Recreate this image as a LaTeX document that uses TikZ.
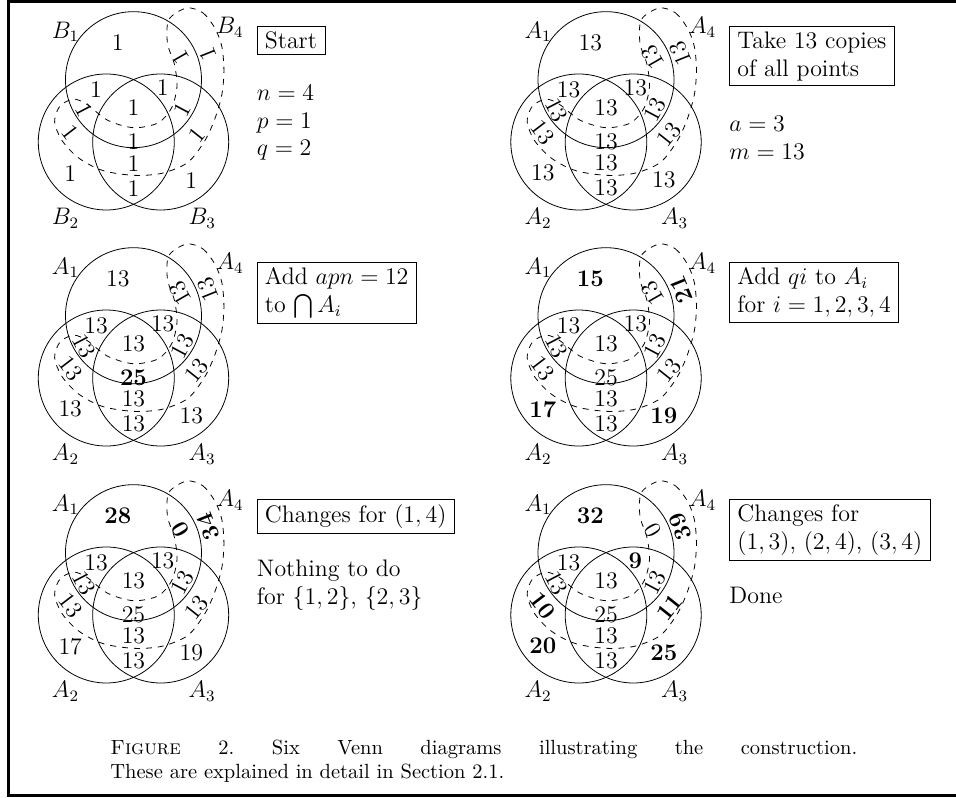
\documentclass[tikz,border=0pt]{standalone}
\usepackage{amsmath}
\usetikzlibrary{positioning}

% region positions and turns, in the order
% 1, 12, 13, 123, 1234, 234, 23, 2, 3, 14, 4, 134, 34, 124, 24
\def\regx{{-0.23,-0.55,0.43,0,0,0,0,-0.93,0.85,0.69,1.10,0.72,0.93,-0.73,-0.93}}
\def\regy{{1.46,0.77,0.80,0.51,0.0,-0.31,-0.68,-0.46,-0.56,1.25,1.30,0.47,0.11,0.47,0.14}}
\def\regr{{0,0,0,0,0,0,0,0,0,120,112,62,51.5,-62.5,-52.6}}

\newcommand\vennpanel[4]{%
  \begin{scope}[shift={(#1)}]
    \draw (0,0.9165) circle (1);
    \draw (-0.4,0) circle (1);
    \draw (0.4,0) circle (1);
    \draw[dashed] plot[smooth cycle] coordinates {
      (0.78,1.97) (1.02,1.90) (1.20,1.67) (1.30,1.40) (1.33,1.05) (1.30,0.70)
      (1.20,0.35) (1.05,0.02) (0.80,-0.30) (0.42,-0.46) (0,-0.49) (-0.45,-0.42)
      (-0.80,-0.24) (-1.05,0.02) (-1.16,0.30) (-1.08,0.53) (-0.88,0.63)
      (-0.68,0.55) (-0.38,0.32) (0,0.21) (0.36,0.28) (0.56,0.50) (0.64,0.82)
      (0.60,1.15) (0.50,1.45) (0.52,1.80)};
    \node[setlabel] (#1-s1) at (-1.00,1.62) {$#2_1$};
    \node[setlabel] (#1-s2) at (-1.00,-1.12) {$#2_2$};
    \node[setlabel] (#1-s3) at (1.01,-1.12) {$#2_3$};
    \node[setlabel] (#1-s4) at (1.42,1.69) {$#2_4$};
    \foreach \v [count=\i from 0] in {#3} {
      \pgfmathsetmacro\rx{\regx[\i]}
      \pgfmathsetmacro\ry{\regy[\i]}
      \pgfmathsetmacro\rr{\regr[\i]}
      \node[num,rotate=\rr] (#1-n\i) at (\rx,\ry) {\v};
    }
    \node[box] (#1-box) at (1.81,1.70) {#4};
  \end{scope}}

\begin{document}
\begin{tikzpicture}[x=1.2cm,y=1.2cm,
    setlabel/.style={font=\large,inner sep=0pt},
    num/.style={font=\large,inner sep=0pt},
    box/.style={draw,anchor=north west,align=left,font=\large,inner xsep=4pt,inner ysep=2.5pt},
    info/.style={anchor=north west,align=left,inner sep=0pt,font=\large},
    caption/.style={anchor=north west,text width=375pt,align=justify,inner sep=0pt,
      font=\fontsize{10.3}{12.5}\selectfont\frenchspacing},
    frame/.style={line width=1.6pt}
    ]
    \useasboundingbox (0,0) rectangle (14.059,-11.721);
    \draw[frame] (14.059,-0.022) -- (0.125,-0.022) -- (0.125,-11.699) -- (14.059,-11.699);

    \coordinate (p1) at (1.963,-2.088);
    \coordinate (p2) at (8.912,-2.088);
    \coordinate (p3) at (1.963,-5.559);
    \coordinate (p4) at (8.912,-5.559);
    \coordinate (p5) at (1.963,-9.044);
    \coordinate (p6) at (8.912,-9.044);

    \vennpanel{p1}{B}{1,1,1,1,1,1,1,1,1,1,1,1,1,1,1}{Start}
    \vennpanel{p2}{A}{13,13,13,13,13,13,13,13,13,13,13,13,13,13,13}{Take 13 copies\\of all points}
    \vennpanel{p3}{A}{13,13,13,13,\textbf{25},13,13,13,13,13,13,13,13,13,13}{Add $apn=12$\\to $\bigcap A_i$}
    \vennpanel{p4}{A}{\textbf{15},13,13,13,25,13,13,\textbf{17},\textbf{19},13,\textbf{21},13,13,13,13}{Add $qi$ to $A_i$\\for $i=1,2,3,4$}
    \vennpanel{p5}{A}{\textbf{28},13,13,13,25,13,13,17,19,\textbf{0},\textbf{34},13,13,13,13}{Changes for $(1,4)$}
    \vennpanel{p6}{A}{\textbf{32},13,\textbf{9},13,25,13,13,\textbf{20},\textbf{25},0,\textbf{39},13,\textbf{11},13,\textbf{10}}{Changes for\\$(1,3)$, $(2,4)$, $(3,4)$}

    \node[below=15pt of p1-box.south west,info] (p1-info) {$n=4$\\$p=1$\\$q=2$};
    \node[below=15pt of p2-box.south west,info] (p2-info) {$a=3$\\$m=13$};
    \node[below=13pt of p5-box.south west,info] (p5-info) {Nothing to do\\for $\{1,2\}$, $\{2,3\}$};
    \node[below=13pt of p6-box.south west,info] (p6-info) {Done};

    \node[caption] (cap) at (1.618,-10.87) {\textsc{Figure} 2. Six Venn diagrams illustrating the construction.\linebreak These are explained in detail in Section 2.1.};
  \end{tikzpicture}
\end{document}
